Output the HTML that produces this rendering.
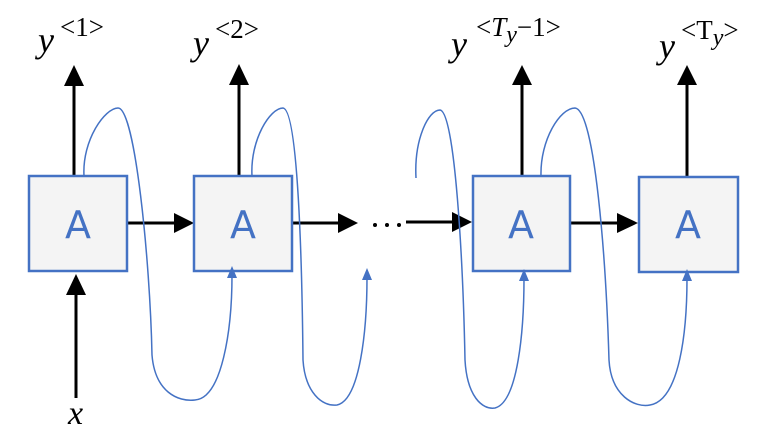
<!DOCTYPE html>
<html><head><style>
body{margin:0;background:#fff;width:782px;height:444px;overflow:hidden}
svg{display:block}
</style></head><body>
<svg width="782" height="444" viewBox="0 0 782 444" xmlns="http://www.w3.org/2000/svg">
<g stroke="#000" stroke-width="3" fill="none">
<line x1="74" y1="176" x2="74" y2="85"/>
<line x1="239" y1="176" x2="239" y2="85"/>
<line x1="522" y1="176" x2="522" y2="85"/>
<line x1="687" y1="176" x2="687" y2="85"/>
<line x1="76" y1="398" x2="76" y2="294"/>
<line x1="127" y1="223" x2="176" y2="223"/>
<line x1="292" y1="223" x2="340" y2="223"/>
<line x1="406" y1="222" x2="454" y2="222"/>
<line x1="570" y1="223" x2="619" y2="223"/>
</g>
<g fill="#000">
<path d="M64,86 L84,86 L74,65z"/><path d="M229,85 L249,85 L239,64z"/>
<path d="M512,85 L532,85 L522,65z"/><path d="M677,85 L697,85 L687,65z"/>
<path d="M66,295 L86,295 L76,274z"/>
<path d="M174,213 L174,233 L194,223z"/><path d="M338,213 L338,233 L358,223z"/>
<path d="M452,212 L452,232 L472,222z"/><path d="M617,213 L617,233 L638,223z"/>
<circle cx="375" cy="225" r="2"/><circle cx="387" cy="225" r="2"/><circle cx="399" cy="225" r="2"/>
</g>
<g fill="#f4f4f4" stroke="#4472C4" stroke-width="2.5">
<rect x="29" y="176" width="98" height="95"/>
<rect x="194" y="176" width="98" height="95"/>
<rect x="473" y="176" width="97" height="95"/>
<rect x="639" y="177" width="99" height="95"/>
</g>
<g fill="none" stroke="#4472C4" stroke-width="1.5">
<path d="M84,176 C82,140 105,108 118,108 C135,108 150,260 152,355 C155,392 178,402 195,400 C222,398 232,330 232,275"/>
<path d="M252,176 C250,140 270,108 283,108 C298,110 302,260 303,360 C305,392 322,407 337,405 C360,400 367,330 367,277"/>
<path d="M416,178 C414,140 428,110 440,110 C455,112 463,260 465,360 C467,396 482,410 495,408 C518,402 524,330 524,278"/>
<path d="M541,176 C540,140 560,108 575,108 C595,110 606,260 609,360 C611,396 635,408 650,405 C680,400 687,330 687,278"/>
</g>
<g fill="#4472C4">
<path d="M227,278 L237,278 L232,266z"/><path d="M362,280 L372,280 L367,268z"/>
<path d="M519,281 L529,281 L524,269z"/><path d="M682,281 L692,281 L687,269z"/>
</g>
<g fill="#4472C4" font-family="DejaVu Sans, sans-serif" font-size="38" text-anchor="middle">
<text x="78" y="238">A</text><text x="243" y="238">A</text>
<text x="521" y="238">A</text><text x="688" y="238">A</text>
</g>
<g font-family="Liberation Serif, serif" fill="#000">
<text x="38" y="52" font-size="36" font-style="italic">y</text>
<text x="60" y="36" font-size="27">&lt;1&gt;</text>
<text x="193" y="55" font-size="36" font-style="italic">y</text>
<text x="215" y="38" font-size="27">&lt;2&gt;</text>
<text x="451" y="56" font-size="36" font-style="italic">y</text>
<text x="476" y="36" font-size="27">&lt;<tspan font-style="italic">T</tspan><tspan font-style="italic" font-size="24" dy="6">y</tspan><tspan dy="-6">−1&gt;</tspan></text>
<text x="659" y="58" font-size="36" font-style="italic">y</text>
<text x="681" y="39" font-size="27">&lt;T<tspan font-style="italic" font-size="24" dy="6">y</tspan><tspan dy="-6">&gt;</tspan></text>
<text x="68" y="424" font-size="34" font-style="italic">x</text>
</g>
</svg>
</body></html>
